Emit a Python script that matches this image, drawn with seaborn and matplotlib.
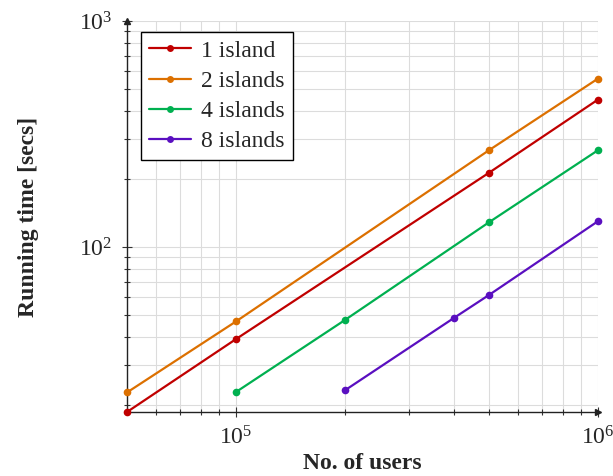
import numpy as np
import pandas as pd
import matplotlib
matplotlib.use("Agg")
import matplotlib.pyplot as plt
import matplotlib.ticker as mticker
import seaborn as sns

# Running time measurements per island configuration
series_names = ["1 island", "2 islands", "4 islands", "8 islands"]
users_1 = [5e4, 1e5, 5e5, 1e6]
time_1 = [18.6, 39.1, 213, 449]
users_2 = [5e4, 1e5, 5e5, 1e6]
time_2 = [22.7, 46.8, 268, 556]
users_4 = [1e5, 2e5, 5e5, 1e6]
time_4 = [22.8, 47.5, 128.6, 268]
users_8 = [2e5, 4e5, 5e5, 1e6]
time_8 = [23.2, 48.5, 61.3, 130]

colors = ["#c00000", "#dc7000", "#00b050", "#5a0fc0"]

frames = []
for name, xs, ys in zip(series_names,
                        [users_1, users_2, users_4, users_8],
                        [time_1, time_2, time_4, time_8]):
    frames.append(pd.DataFrame({"users": xs, "time": ys, "config": name}))
df = pd.concat(frames, ignore_index=True)

sns.set_theme(style="white")
plt.rcParams["font.family"] = ["Liberation Serif", "DejaVu Serif"]
plt.rcParams["mathtext.fontset"] = "custom"
plt.rcParams["mathtext.rm"] = "Liberation Serif"
plt.rcParams["mathtext.it"] = "Liberation Serif:italic"
plt.rcParams["mathtext.bf"] = "Liberation Serif:bold"

fig = plt.figure(figsize=(6.13, 4.76), dpi=100)
ax = fig.add_axes([127 / 613, 1 - 412 / 476, (598 - 127) / 613, (412 - 21) / 476])

sns.lineplot(data=df, x="users", y="time", hue="config", hue_order=series_names,
             palette=colors, marker="o", markersize=5.5, markeredgewidth=0,
             linewidth=1.6, ax=ax, clip_on=False, zorder=3, sort=False)

ax.set_xscale("log")
ax.set_yscale("log")
ax.set_xlim(5e4, 1e6)
ax.set_ylim(18.6, 1000)

ax.xaxis.set_major_locator(mticker.LogLocator(base=10, numticks=10))
ax.xaxis.set_minor_locator(mticker.LogLocator(base=10, subs=np.arange(2, 10), numticks=20))
ax.yaxis.set_major_locator(mticker.LogLocator(base=10, numticks=10))
ax.yaxis.set_minor_locator(mticker.LogLocator(base=10, subs=np.arange(2, 10), numticks=20))
ax.xaxis.set_major_formatter(mticker.LogFormatterMathtext())
ax.yaxis.set_major_formatter(mticker.LogFormatterMathtext())
ax.xaxis.set_minor_formatter(mticker.NullFormatter())
ax.yaxis.set_minor_formatter(mticker.NullFormatter())

ax.grid(True, which="both", color="#dcdcdc", linewidth=0.8)
ax.set_axisbelow(True)

for side in ["top", "right"]:
    ax.spines[side].set_visible(False)
for side in ["left", "bottom"]:
    ax.spines[side].set_color("#222222")
    ax.spines[side].set_linewidth(1.0)

ax.tick_params(which="major", direction="inout", length=7, width=0.8,
               color="#333333", labelsize=17, pad=7, bottom=True, left=True)
ax.tick_params(which="minor", direction="inout", length=5, width=0.8,
               color="#333333", bottom=True, left=True)

# Arrow heads at the ends of the axes
ax.plot(1, 0, marker=">", color="#222222", markersize=5, transform=ax.transAxes, clip_on=False)
ax.plot(0, 1, marker="^", color="#222222", markersize=5, transform=ax.transAxes, clip_on=False)

ax.set_xlabel("No. of users", fontsize=17, fontweight="bold", labelpad=2)
ax.set_ylabel("Running time [secs]", fontsize=17, fontweight="bold", labelpad=29)

leg = ax.legend(loc="upper left", bbox_to_anchor=(0.03, 0.972), borderaxespad=0,
                fontsize=17, frameon=True, fancybox=False, framealpha=1,
                edgecolor="black", handlelength=1.75, handletextpad=0.45,
                labelspacing=0.36, borderpad=0.35, title=None)
leg.get_frame().set_linewidth(1.0)
for h in leg.get_lines():
    h.set_linewidth(1.6)
    h.set_markersize(5)

fig.savefig("out.png", dpi=100)
